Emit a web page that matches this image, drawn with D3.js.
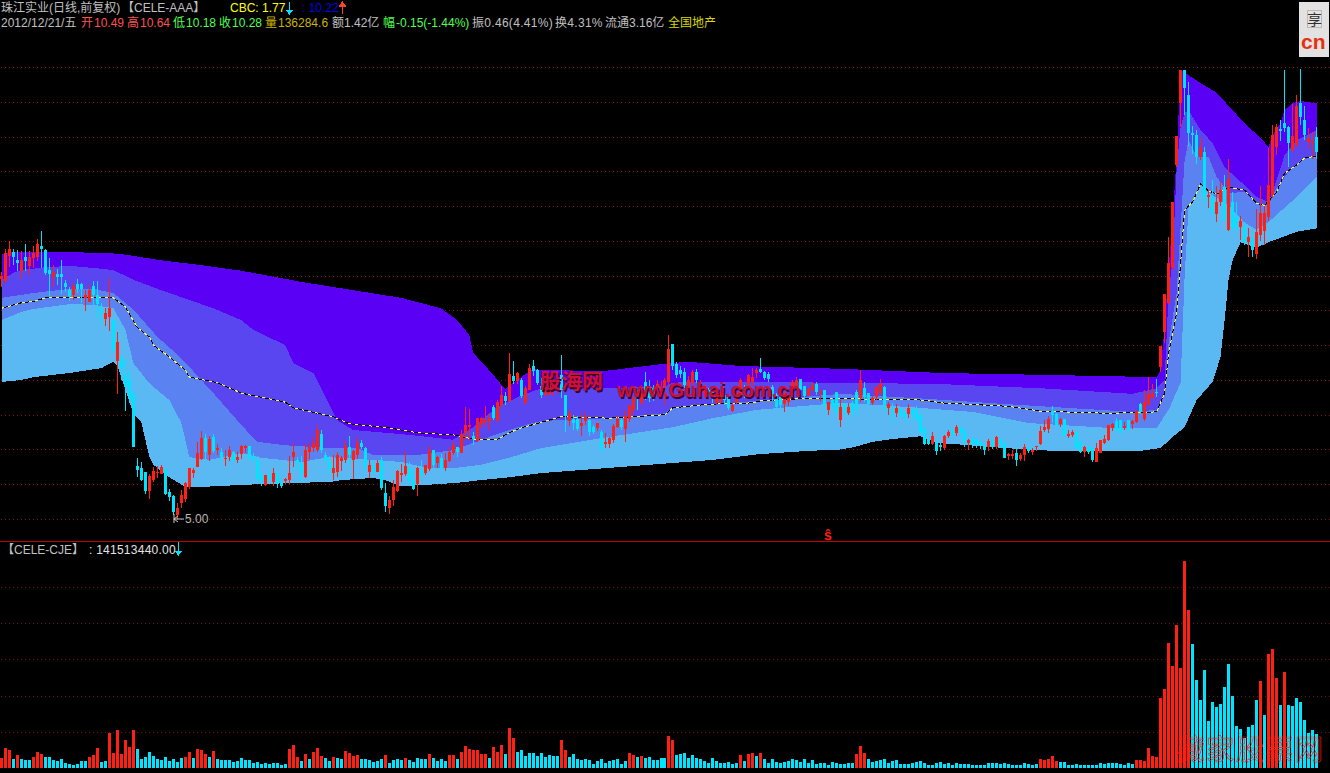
<!DOCTYPE html>
<html><head><meta charset="utf-8">
<script src="https://cdn.jsdelivr.net/npm/d3@7"></script>
<style>html,body{margin:0;padding:0;background:#000;overflow:hidden}svg{display:block}text{font-family:"Liberation Sans","Noto Sans CJK SC",sans-serif}</style>
</head><body><div id="chart"></div>
<script>
// ---------- candles (price in yuan) ----------
const highs=[8.55,8.88,9.00,8.88,8.87,8.85,8.95,8.85,8.93,9.03,9.14,8.88,8.75,8.65,8.59,8.72,8.44,8.34,8.39,8.45,8.39,8.29,8.36,8.42,8.42,8.10,8.03,8.47,7.88,7.69,7.36,7.29,7.14,6.81,5.88,5.82,5.68,5.65,5.75,5.76,5.78,5.72,5.43,5.35,5.23,5.42,5.53,5.73,5.73,6.11,6.27,6.22,6.19,6.22,6.08,6.02,5.99,6.05,5.98,5.96,
6.06,6.06,6.05,5.95,5.91,5.68,5.63,5.68,5.73,5.68,5.55,5.59,5.91,6.09,5.89,5.91,6.08,6.09,6.19,6.35,6.28,5.96,5.91,5.92,5.96,5.91,6.14,6.19,5.99,6.18,6.14,6.03,5.85,5.83,5.85,5.89,5.52,5.33,5.56,5.70,5.79,5.98,5.82,5.72,5.75,5.85,5.78,6.05,5.99,5.91,5.93,5.95,6.03,6.12,6.03,6.28,6.61,6.58,6.25,6.45,6.47,6.62,6.51,6.64,6.71,6.91,6.83,7.39,7.27,7.11,7.03,6.91,7.23,7.29,7.16,
7.03,6.93,7.00,7.07,7.07,7.36,6.78,6.57,6.50,6.48,6.50,6.54,6.44,6.35,6.38,6.28,6.24,6.18,6.37,6.48,6.45,6.57,6.64,6.77,6.85,6.93,7.11,7.00,6.93,7.00,6.98,7.03,7.65,7.52,7.26,7.20,7.17,7.06,7.14,7.16,7.00,6.94,6.88,6.85,6.83,6.83,6.81,6.78,6.67,6.83,7.03,6.93,7.09,7.17,7.17,7.31,7.13,7.11,6.93,6.81,6.78,6.84,6.80,7.00,7.04,7.01,6.91,6.88,6.97,6.97,6.85,6.85,6.68,6.74,6.83,6.71,
6.67,6.67,6.70,6.85,7.14,6.97,6.81,6.77,6.91,7.01,6.91,6.68,6.67,6.65,6.60,6.55,6.65,6.58,6.62,6.50,6.31,6.19,6.25,6.12,6.09,6.21,6.28,6.31,6.35,6.34,6.28,6.15,6.19,6.16,6.12,6.09,6.15,6.15,6.19,6.15,6.09,5.95,5.99,6.01,5.95,6.08,6.03,6.02,6.05,6.34,6.42,6.48,6.62,6.52,6.45,6.44,6.28,6.28,6.27,6.12,6.05,6.05,6.02,6.09,6.14,6.21,6.35,6.38,6.45,6.42,6.39,6.42,6.42,6.55,6.67,6.85,7.04,6.94,7.01,
7.49,8.24,9.05,9.56,10.51,11.46,11.46,11.28,10.65,10.59,10.48,10.35,9.73,9.87,9.79,9.85,9.95,10.18,9.70,9.56,9.36,9.27,9.18,9.13,9.46,9.79,9.50,10.34,10.67,10.68,10.74,11.46,10.65,10.97,11.10,11.47,10.94,10.62,10.56,10.64];
const bodyHigh=[8.49,8.83,8.88,8.84,8.72,8.72,8.77,8.77,8.83,8.95,8.93,8.87,8.58,8.55,8.52,8.52,8.39,8.29,8.35,8.38,8.38,8.22,8.29,8.35,8.22,8.03,7.96,8.03,7.86,7.55,7.31,7.07,7.00,6.81,5.76,5.73,5.68,5.62,5.69,5.68,5.75,5.72,5.39,5.33,5.16,5.35,5.52,5.73,5.70,5.95,6.16,6.16,6.15,6.18,6.02,5.96,5.88,5.99,5.96,5.89,
6.05,6.05,6.05,5.89,5.83,5.62,5.63,5.63,5.66,5.65,5.52,5.57,5.66,5.96,5.85,5.79,5.99,6.03,6.09,6.28,6.22,5.92,5.82,5.73,5.92,5.88,6.05,6.03,5.98,6.09,6.09,6.02,5.78,5.78,5.80,5.85,5.37,5.27,5.46,5.69,5.66,5.76,5.73,5.56,5.73,5.70,5.78,5.99,5.99,5.89,5.88,5.85,5.96,6.06,6.03,6.22,6.35,6.35,6.19,6.45,6.45,6.42,6.45,6.61,6.68,6.78,6.77,7.09,7.06,7.10,7.00,6.88,7.17,7.20,7.14,
6.91,6.90,6.96,6.93,7.00,7.07,6.78,6.52,6.44,6.44,6.38,6.47,6.42,6.32,6.38,6.25,6.11,6.16,6.34,6.44,6.42,6.48,6.64,6.74,6.78,6.85,6.97,6.90,6.88,6.94,6.90,7.00,7.44,7.52,7.23,7.14,7.11,7.00,7.11,7.11,6.94,6.91,6.85,6.83,6.78,6.80,6.78,6.77,6.64,6.81,7.00,6.88,7.07,7.04,7.14,7.16,7.11,7.09,6.90,6.78,6.75,6.81,6.77,6.97,7.00,7.01,6.91,6.87,6.93,6.94,6.84,6.85,6.68,6.71,6.83,6.61,
6.65,6.61,6.67,6.83,7.00,6.88,6.81,6.74,6.90,6.94,6.90,6.65,6.58,6.60,6.58,6.54,6.60,6.57,6.58,6.50,6.31,6.15,6.19,6.11,6.06,6.19,6.25,6.28,6.32,6.32,6.28,6.14,6.15,6.14,6.11,6.06,6.12,6.14,6.18,6.15,6.09,5.93,5.93,5.95,5.92,6.03,6.03,5.99,6.05,6.27,6.32,6.44,6.55,6.51,6.44,6.44,6.22,6.25,6.25,6.11,6.03,6.03,6.02,6.02,6.14,6.15,6.35,6.37,6.41,6.42,6.34,6.42,6.41,6.55,6.65,6.68,6.80,6.81,6.83,
7.49,8.24,8.68,9.56,10.51,11.46,11.46,11.10,10.55,10.52,10.35,10.28,9.66,9.63,9.56,9.73,9.77,9.89,9.56,9.34,9.28,9.20,9.05,9.04,9.13,9.40,9.40,9.80,10.52,10.64,10.61,10.69,10.64,10.51,10.94,10.98,10.74,10.48,10.44,10.49];
const bodyLow=[8.45,8.42,8.78,8.77,8.68,8.57,8.71,8.64,8.75,8.77,8.88,8.54,8.52,8.48,8.48,8.48,8.34,8.21,8.22,8.31,8.31,8.18,8.12,8.22,8.09,7.96,7.88,7.90,7.43,7.27,7.17,6.90,6.73,6.03,5.70,5.56,5.40,5.40,5.56,5.66,5.65,5.36,5.32,5.10,5.06,5.23,5.29,5.46,5.66,5.75,5.86,5.96,5.92,5.98,5.99,5.89,5.86,5.89,5.83,5.85,
5.93,6.02,5.88,5.86,5.57,5.55,5.49,5.57,5.53,5.50,5.47,5.55,5.56,5.89,5.80,5.66,5.60,5.96,6.02,5.99,5.99,5.85,5.72,5.66,5.68,5.83,5.85,5.92,5.85,5.92,6.03,5.76,5.68,5.66,5.68,5.45,5.19,5.16,5.27,5.40,5.65,5.65,5.56,5.43,5.50,5.63,5.66,5.72,5.78,5.80,5.72,5.73,5.83,5.95,5.96,5.95,6.24,6.34,6.15,6.12,6.37,6.41,6.41,6.45,6.41,6.64,6.70,6.70,6.98,6.98,6.77,6.67,6.85,7.13,6.96,
6.78,6.78,6.80,6.85,6.88,6.85,6.48,6.41,6.38,6.29,6.34,6.41,6.25,6.25,6.31,5.99,6.08,6.08,6.14,6.32,6.32,6.29,6.44,6.57,6.74,6.67,6.74,6.74,6.74,6.81,6.83,6.91,6.97,7.20,7.07,7.09,6.93,6.81,6.96,7.00,6.83,6.81,6.77,6.75,6.67,6.70,6.71,6.60,6.55,6.68,6.78,6.78,6.93,6.97,7.10,7.11,7.03,7.01,6.75,6.61,6.64,6.65,6.68,6.80,6.90,6.85,6.77,6.77,6.85,6.83,6.81,6.61,6.57,6.61,6.52,6.42,
6.52,6.52,6.54,6.61,6.74,6.75,6.65,6.67,6.75,6.81,6.61,6.60,6.52,6.52,6.50,6.47,6.51,6.51,6.44,6.25,6.08,6.08,6.08,5.98,6.05,6.02,6.19,6.22,6.24,6.25,6.09,6.09,6.08,6.08,6.05,5.99,6.03,6.03,6.03,6.08,5.88,5.92,5.92,5.85,5.86,5.92,5.98,5.98,6.03,6.08,6.28,6.29,6.50,6.35,6.37,6.19,6.21,6.21,6.02,5.96,5.96,5.96,5.85,5.82,5.95,6.09,6.14,6.31,6.28,6.24,6.31,6.28,6.37,6.39,6.54,6.44,6.64,6.74,6.81,
7.19,7.69,8.10,8.61,10.09,10.98,11.20,10.55,10.52,10.20,10.20,9.63,9.63,9.41,9.39,9.56,9.30,9.16,9.18,9.20,9.20,8.98,8.98,8.87,8.81,9.08,9.14,9.34,9.66,10.35,10.58,10.62,10.41,10.31,10.38,10.78,10.52,10.42,10.41,10.28];
const lows=[8.34,8.39,8.62,8.65,8.57,8.45,8.57,8.51,8.61,8.71,8.61,8.51,8.21,8.34,8.36,8.24,8.26,8.13,8.15,8.25,8.10,7.99,8.12,8.08,7.89,7.77,7.77,7.70,7.40,6.80,7.00,6.55,6.67,6.03,5.60,5.55,5.36,5.29,5.53,5.59,5.65,5.35,5.26,5.06,5.00,5.16,5.24,5.43,5.59,5.75,5.85,5.85,5.83,5.95,5.92,5.83,5.76,5.83,5.82,5.80,
5.86,5.95,5.85,5.80,5.55,5.47,5.47,5.55,5.47,5.45,5.45,5.50,5.50,5.75,5.70,5.53,5.59,5.86,5.96,5.96,5.95,5.82,5.63,5.56,5.60,5.69,5.80,5.78,5.57,5.86,6.01,5.66,5.59,5.65,5.68,5.42,5.10,5.07,5.19,5.39,5.53,5.62,5.49,5.42,5.33,5.57,5.63,5.69,5.72,5.73,5.70,5.69,5.82,5.92,5.89,5.95,6.14,6.14,6.06,6.11,6.31,6.32,6.28,6.42,6.41,6.61,6.64,6.68,6.94,6.94,6.74,6.65,6.85,7.06,6.93,
6.74,6.77,6.77,6.77,6.81,6.74,6.25,6.34,6.28,6.27,6.19,6.35,6.19,6.22,6.27,5.99,6.02,6.02,6.09,6.31,6.28,6.11,6.39,6.50,6.57,6.64,6.71,6.68,6.70,6.81,6.77,6.64,6.93,7.14,7.03,7.03,6.88,6.81,6.93,6.96,6.78,6.74,6.74,6.67,6.64,6.65,6.64,6.57,6.54,6.65,6.75,6.74,6.87,6.91,7.03,7.10,7.00,6.97,6.70,6.57,6.60,6.54,6.62,6.77,6.85,6.77,6.71,6.77,6.83,6.78,6.70,6.58,6.50,6.60,6.47,6.32,
6.47,6.50,6.47,6.50,6.68,6.68,6.60,6.64,6.71,6.78,6.54,6.50,6.38,6.47,6.45,6.38,6.45,6.42,6.42,6.24,6.06,6.06,6.06,5.92,5.98,5.99,6.16,6.18,6.19,6.19,6.03,5.99,6.02,6.02,6.01,5.92,5.98,6.01,6.01,6.02,5.88,5.85,5.86,5.76,5.83,5.83,5.95,5.92,5.98,6.06,6.25,6.24,6.38,6.32,6.32,6.18,6.16,6.18,6.01,5.95,5.89,5.93,5.82,5.82,5.95,6.08,6.12,6.27,6.27,6.24,6.28,6.27,6.29,6.38,6.51,6.41,6.64,6.73,6.75,
7.11,7.53,8.09,8.58,10.06,10.64,10.81,10.36,10.25,10.10,10.16,9.54,9.47,9.36,9.27,9.50,9.28,9.14,9.13,9.14,9.01,8.94,8.77,8.77,8.74,9.00,8.94,9.28,9.62,10.23,10.44,10.56,10.06,10.28,10.35,10.67,10.45,10.32,10.18,10.18];
// R = rising (red) candle, C = falling (cyan) candle
const candleDir=("RRRCCRCRRR"+"CCCRCCCCRC"+"CRRCCCRRCR"+"CCCCCCCRRR"+"RCCCRRRRRR"+"RCRCRCRRCR"+"RRCCCCRCRC"+"CRRRCCRRRR"+"CCCRRRRCRR"+"CCRCRCCRRR"+"RRCCRCRRCR"+"CRRRCRRRCR"+"RRRCRRCRCR"+"CRRCCCRRRR"+"CCRCCRRCCR"+"CRRRRCRRRC"+"RCCCRRRRCC"+"CCRRCRRCCR"+"RCCRRRCRRR"+"CCCCCCRRRR"+"CCRRCRCRCC"+"RCRCCRCCRR"+"RCRCRCCRCC"+"CCCRCCRRCR"+"CCRCCCCRCR"+"CCRRCRRCRR"+"RRRCCRCRRC"+"CRCCRRRRRC"+"CRCRRCRRRC"+"RRRRRRCCCC"+"RCRCRRCRCC"+"RCRCRRRRRR"+"CCCRRCCRRC").split("");
// ---------- turnover per day (million yuan) ----------
const volume=[41,83,75,37,54,37,33,33,46,66,58,46,46,33,29,37,21,17,12,17,29,29,46,54,83,25,29,145,62,157,58,116,87,157,79,37,46,66,50,37,33,46,29,37,25,41,46,66,41,79,75,58,46,70,37,33,33,33,25,29,41,33,33,21,25,17,21,17,21,21,12,17,79,95,46,29,58,37,66,83,50,41,29,46,41,37,70,62,50,54,37,37,33,25,29,37,54,21,33,37,33,41,33,25,41,37,37,58,41,29,37,29,54,54,37,66,91,79,75,75,58,58,41,87,66,95,58,166,124,66,75,50,62,62,50,62,46,54,50,50,116,75,46,58,37,33,37,33,17,29,37,21,29,33,37,17,29,62,54,46,50,41,46,33,33,41,41,132,116,54,58,62,41,54,41,37,29,21,41,29,21,21,25,17,21,54,29,58,62,50,62,37,21,37,25,21,25,29,37,33,25,37,21,33,17,21,21,12,25,21,17,17,21,21,58,91,62,37,25,29,33,37,21,29,33,17,17,17,21,25,29,21,12,12,21,25,17,21,12,21,17,17,17,12,12,12,12,21,21,21,17,21,17,12,12,12,21,17,12,17,37,33,37,50,29,25,25,12,12,17,12,12,12,12,12,21,17,21,21,21,17,12,21,17,33,33,29,83,50,46,290,327,518,422,592,414,857,654,513,364,282,406,195,273,253,265,335,431,298,174,161,124,170,178,282,360,219,472,493,373,261,397,261,257,290,273,199,145,157,141.5];
const volumeDir=("RRRCRCCCRR"+"RCCCCCCCCC"+"CCRRRCCRRR"+"RRRRCCCCCC"+"CCCCCCRRCR"+"RRCRCCCCCC"+"CCCCCCCCCC"+"CCRRRCRCRR"+"RCCRCCRRRR"+"CCCCCCRCCC"+"CRCCCCCRCC"+"CCRRCRRRRR"+"RRCRRRCRRC"+"CCCCCCCCCC"+"RRCCCCCCCC"+"CCCCCCCRRC"+"RCCCCCCRRC"+"CCCCCCCCCC"+"CCCCCRCRRC"+"RCCCCCCCCC"+"CCCCCCCCCC"+"CCCCRRRCCC"+"CCCCCCCCCC"+"CCCCCCCCCC"+"CCCCCCCCCC"+"CCCCCCCCCC"+"RRRRRCCCCC"+"CCCCCCCCCC"+"CCCCRRRRRR"+"RRRRRRRRCC"+"CCCCCCCCCC"+"CCCCCRCRRR"+"CRCCCCCCCC").split("");
// ---------- band boundaries, [bar, price] ----------
const bandTop=[[0,8.80],[2,8.84],[6,8.84],[25,8.83],[30,8.81],[40,8.72],[50,8.65],[60,8.57],[75,8.41],[88,8.29],[100,8.18],[110,8.03],[114,7.86],[117,7.65],[118,7.39],[122,7.14],[126,6.87],[129,7.00],[133,7.16],[135,7.14],[151,7.13],[167,7.24],[172,7.26],[185,7.20],[210,7.16],[235,7.10],[263,7.07],[289,7.04],[290,7.14],[291,7.76],[292,8.62],[293,9.30],[294,10.20],[295,11.46],[296,11.43],[297,11.38],[300,11.27],[304,11.13],[308,10.88],[311,10.69],[315,10.48],[317,10.35],[318,10.52],[320,10.69],[321,10.88],[323,10.98],[325,11.01],[329,10.98]];
const bandUpper=[[0,8.44],[3,8.54],[5,8.58],[11,8.62],[17,8.64],[23,8.61],[28,8.58],[33,8.44],[40,8.29],[47,8.15],[53,8.03],[60,7.86],[63,7.72],[71,7.50],[73,7.24],[78,7.10],[84,6.42],[88,6.28],[102,6.21],[113,6.14],[118,6.32],[124,6.61],[129,6.75],[135,6.88],[152,6.88],[166,6.91],[168,6.96],[172,6.97],[185,6.97],[210,6.96],[235,6.94],[260,6.88],[283,6.80],[289,6.88],[291,7.00],[292,8.25],[293,8.72],[294,10.02],[295,10.64],[296,10.84],[297,10.88],[300,10.59],[303,10.41],[306,10.06],[311,9.80],[314,9.63],[317,9.56],[319,9.87],[321,10.23],[324,10.45],[329,10.59]];
const bandMiddle=[[0,8.18],[8,8.25],[17,8.31],[23,8.31],[28,8.25],[33,8.01],[39,7.62],[45,7.31],[53,6.81],[60,6.35],[64,6.11],[71,6.06],[82,6.02],[89,6.02],[93,5.92],[104,5.92],[113,5.99],[122,6.18],[127,6.28],[131,6.35],[135,6.41],[152,6.45],[166,6.52],[168,6.61],[185,6.68],[210,6.80],[231,6.73],[252,6.65],[283,6.54],[289,6.57],[291,6.81],[292,7.53],[294,8.25],[295,9.20],[296,10.16],[297,10.45],[299,10.21],[302,10.21],[304,9.92],[307,9.69],[311,9.70],[314,9.54],[317,9.51],[319,9.76],[322,9.99],[325,10.16],[329,10.22]];
const bandLower=[[0,7.86],[5,7.98],[8,8.02],[17,8.09],[23,8.08],[28,8.03],[31,7.72],[33,7.24],[37,6.95],[42,6.71],[45,6.38],[47,5.89],[52,5.85],[60,5.95],[65,5.88],[75,5.82],[82,5.89],[93,5.85],[100,5.82],[107,5.73],[113,5.73],[120,5.78],[127,5.88],[135,6.02],[152,6.18],[168,6.32],[178,6.45],[189,6.57],[210,6.67],[227,6.61],[243,6.54],[257,6.38],[277,6.31],[289,6.31],[292,6.57],[295,6.96],[296,8.48],[297,9.49],[300,9.80],[302,9.69],[307,9.51],[311,9.26],[314,9.16],[317,9.27],[324,9.63],[329,9.92]];
const bandBottom=[[0,6.97],[5,7.00],[8,7.04],[17,7.10],[25,7.17],[28,7.26],[29,7.21],[33,6.52],[35,6.39],[37,5.89],[38,5.78],[42,5.60],[46,5.46],[50,5.46],[53,5.47],[60,5.49],[73,5.52],[82,5.53],[85,5.56],[93,5.59],[96,5.56],[100,5.47],[109,5.50],[114,5.52],[120,5.56],[127,5.60],[135,5.66],[178,5.85],[189,5.93],[202,5.98],[210,6.00],[213,6.03],[218,6.11],[223,6.15],[230,6.19],[234,6.09],[238,6.08],[251,6.02],[263,5.98],[285,5.98],[290,6.02],[293,6.18],[296,6.32],[299,6.71],[303,6.97],[305,7.33],[306,7.86],[307,8.44],[308,8.72],[310,8.98],[314,8.90],[317,8.98],[324,9.13],[329,9.18]];
const avgLine=[[0,8.03],[5,8.11],[8,8.13],[11,8.18],[28,8.18],[31,8.05],[34,7.75],[37,7.62],[38,7.50],[42,7.33],[46,7.14],[47,7.04],[54,6.96],[60,6.81],[71,6.68],[73,6.60],[83,6.47],[87,6.37],[97,6.31],[104,6.24],[113,6.21],[118,6.15],[124,6.14],[127,6.24],[130,6.31],[135,6.39],[140,6.47],[152,6.45],[166,6.50],[168,6.60],[177,6.65],[188,6.67],[190,6.70],[200,6.73],[210,6.73],[231,6.71],[235,6.67],[252,6.62],[260,6.55],[277,6.52],[289,6.54],[291,6.81],[292,7.39],[294,7.96],[295,8.68],[296,9.44],[298,9.56],[299,9.69],[300,9.82],[302,9.72],[304,9.67],[307,9.77],[311,9.73],[314,9.54],[316,9.51],[319,9.70],[321,9.97],[324,10.09],[326,10.19],[329,10.22]];
// ---------- ticks ----------
const priceTicks=[5,5.5,6,6.5,7,7.5,8,8.5,9,9.5,10,10.5,11,11.5];
const volumeTicks=[150,300,450,600,750];

const RED="#ff2014", CYAN="#00e4ff", GRID="#8c1010";
const svg=d3.select("#chart").append("svg").attr("width",1330).attr("height",773);
const bars=d3.range(highs.length);
const x=d3.scaleBand().domain(bars).range([0,1319]);
const px=i=>x(i)+1.5;
const y=d3.scaleLinear().domain([5,11.5]).range([519,67]);
const yVol=d3.scaleLinear().domain([0,750]).range([768,587]);

// grid
svg.append("g").selectAll("line").data(priceTicks).join("line")
  .attr("x1",1).attr("x2",1330).attr("y1",d=>Math.round(y(d))+.5).attr("y2",d=>Math.round(y(d))+.5)
  .attr("stroke",GRID).attr("stroke-dasharray","1 3");
svg.append("g").selectAll("line").data(volumeTicks).join("line")
  .attr("x1",1).attr("x2",1330).attr("y1",d=>Math.round(yVol(d))+.5).attr("y2",d=>Math.round(yVol(d))+.5)
  .attr("stroke","#701010").attr("stroke-dasharray","1 3");
svg.append("line").attr("x1",0).attr("x2",1330).attr("y1",541.5).attr("y2",541.5).attr("stroke","#c00000");

// bands
const ln=d3.line().x(d=>px(d[0])).y(d=>y(d[1]));
const band=(top,fill)=>svg.append("path")
  .attr("d",ln(top)+"L"+ln(bandBottom.slice().reverse()).slice(1)+"Z")
  .attr("fill",fill).attr("shape-rendering","crispEdges");
band(bandTop,"#5a00f4");
band(bandUpper,"#5a46f0");
band(bandMiddle,"#5a82f0");
band(bandLower,"#5ab8f2");

// average line
svg.append("path").attr("d",ln(avgLine)).attr("fill","none").attr("stroke","#000").attr("stroke-width",1).attr("shape-rendering","crispEdges");
svg.append("path").attr("d",ln(avgLine)).attr("fill","none").attr("stroke","#ffff30").attr("stroke-width",1).attr("stroke-dasharray","3 4").attr("shape-rendering","crispEdges");

// candles
const cg=svg.append("g").attr("shape-rendering","crispEdges");
const col=i=>candleDir[i]==="R"?RED:CYAN;
cg.selectAll("rect.w").data(bars).join("rect").attr("class","w")
  .attr("x",i=>Math.round(x(i))+1).attr("width",1)
  .attr("y",i=>y(highs[i])).attr("height",i=>Math.max(1,y(lows[i])-y(highs[i])))
  .attr("fill",col);
cg.selectAll("rect.b").data(bars).join("rect").attr("class","b")
  .attr("x",i=>Math.round(x(i))).attr("width",3)
  .attr("y",i=>y(bodyHigh[i])).attr("height",i=>Math.max(1.5,y(bodyLow[i])-y(bodyHigh[i])))
  .attr("fill",col);

// volume bars
svg.append("g").attr("shape-rendering","crispEdges").selectAll("rect").data(bars).join("rect")
  .attr("x",i=>Math.round(x(i))).attr("width",3)
  .attr("y",i=>yVol(volume[i])).attr("height",i=>yVol(0)-yVol(volume[i]))
  .attr("fill",i=>volumeDir[i]==="R"?RED:CYAN);

// text helpers
const T=(s,tx,ty,fill,size=12,extra={})=>{const t=svg.append("text").attr("x",tx).attr("y",ty).attr("fill",fill).attr("font-size",size).text(s);
  Object.entries(extra).forEach(([k,v])=>t.attr(k,v));return t;};
const arrow=(ax,y1,y2,c)=>{const d=y2>y1?1:-1;
  svg.append("path").attr("d",`M${ax},${y1}V${y2}M${ax-3},${y2-d*4}L${ax},${y2}L${ax+3},${y2-d*4}Z`).attr("stroke",c).attr("fill",c).attr("shape-rendering","crispEdges");};
const GREY="#c0c0c0", RT="#ff5050", GT="#50ff50";
T("珠江实业(日线,前复权)",1,12,GREY);
T("【CELE-AAA】",122,12,GREY);
T("CBC: 1.77",230,12,"#ffff00");
arrow(289.5,2,14,CYAN);
T(": 10.22",302,12,"#0000e8");
arrow(342.5,14,2,"#ff4030");
T("2012/12/21/五",1,27,GREY);
T("开",81,27,RT);T("10.49",94,27,RT);
T("高",127,27,RT);T("10.64",140,27,RT);
T("低",173,27,GT);T("10.18",186,27,GT);
T("收",219,27,GT);T("10.28",232,27,GT);
T("量",265,27,"#c8b400");T("136284.6",278,27,"#c8b400");
T("额1.42亿",332,27,GREY);
T("幅",383,27,GT);T("-0.15(-1.44%)",396,27,GT);
T("振0.46(4.41%)",472,27,GREY,12,{"letter-spacing":"0.3px"});
T("换4.31%",555,27,GREY,12,{"letter-spacing":"0.3px"});
T("流通3.16亿",605,27,GREY);
T("全国地产",668,27,"#d8d800");

// low-price label
svg.append("path").attr("d","M184,519H174M178,516L174,519L178,522M174,514V523").attr("stroke","#c8c8c8").attr("fill","none");
T("5.00",185,523,"#b8b8b8");
T("ŝ",824,540,"#ff2014",14,{"font-weight":"bold"});

// lower panel title
T("【CELE-CJE】",2,554,GREY);
T(": 141513440.00",89,554,"#e4e4e4",12,{"letter-spacing":"0.25px"});
arrow(178.5,542,555,CYAN);

// watermark
const wm=(s,wx,wy,size)=>{
  T(s,wx+1.5,wy+1.5,"#3a0030",size,{"font-weight":"bold"});
  T(s,wx,wy,"#cc1038",size,{"font-weight":"bold"});};
wm("股海网",540,388,21);
wm("www.Guhai.com.cn",617,397,20);

// bottom-right outline watermark
T("藏家股票网",1177,760,"none",28,{stroke:"#ff2014","stroke-width":0.6,"letter-spacing":"1.5px","font-family":"Noto Sans CJK SC","shape-rendering":"crispEdges"});

// logo
svg.append("rect").attr("x",1299).attr("y",2).attr("width",30).attr("height",55).attr("fill","#e2e2e2");
svg.append("rect").attr("x",1307.5).attr("y",10.5).attr("width",14).attr("height",17).attr("fill","none").attr("stroke","#c4b4b4");
T("享",1307,25,"#303030",15,{"font-family":"Noto Sans CJK SC"});
T("cn",1301,49,"#e83010",21,{"font-weight":"bold"});
</script></body></html>
